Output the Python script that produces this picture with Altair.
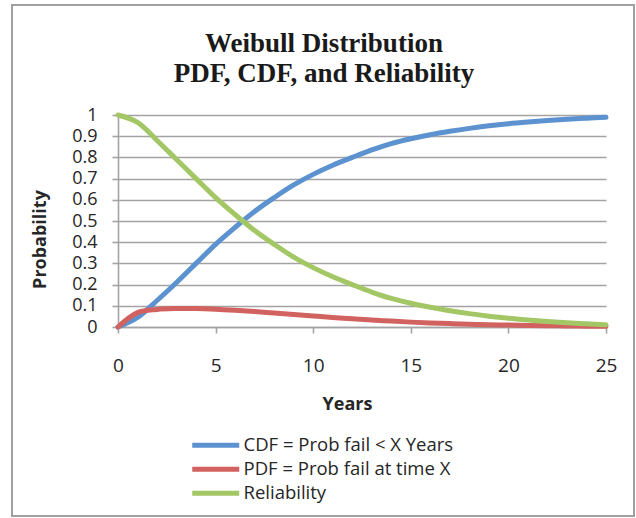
import altair as alt
import pandas as pd

# Weibull failure model read year by year
years = list(range(26))
cdf = [0.0, 0.045, 0.125, 0.21, 0.30, 0.39, 0.47, 0.545, 0.61, 0.67, 0.72, 0.763,
       0.80, 0.835, 0.865, 0.888, 0.907, 0.923, 0.937, 0.949, 0.959, 0.967,
       0.974, 0.98, 0.985, 0.989]
pdf = [0.0, 0.068, 0.083, 0.087, 0.087, 0.084, 0.079, 0.073, 0.066, 0.059, 0.052,
       0.045, 0.039, 0.033, 0.028, 0.023, 0.019, 0.016, 0.013, 0.011, 0.009,
       0.007, 0.006, 0.005, 0.004, 0.003]
reliability = [1.0, 0.965, 0.88, 0.79, 0.70, 0.61, 0.53, 0.455, 0.39, 0.33, 0.28,
               0.237, 0.20, 0.165, 0.135, 0.112, 0.093, 0.077, 0.063, 0.051,
               0.041, 0.033, 0.026, 0.02, 0.015, 0.011]

series_names = ["CDF = Prob fail < X Years", "PDF = Prob fail at time X", "Reliability"]
series_colors = ["#5b92cf", "#d2625f", "#a4c766"]

x_ticks = [0, 5, 10, 15, 20, 25]
y_ticks = [0, 0.1, 0.2, 0.3, 0.4, 0.5, 0.6, 0.7, 0.8, 0.9, 1]

rows = []
for name, values in zip(series_names, [cdf, pdf, reliability]):
    for yr, v in zip(years, values):
        rows.append({"Years": yr, "Probability": v, "Series": name})
df = pd.DataFrame(rows)

GRID = "#a3a3a3"
FONT = "Open Sans"
INK = "#262626"

lines = alt.Chart(df).mark_line(
    strokeWidth=5, interpolate="catmull-rom", strokeCap="round", strokeJoin="round"
).encode(
    x=alt.X(
        "Years:Q",
        scale=alt.Scale(domain=[0, 25], nice=False, zero=False),
        axis=alt.Axis(
            values=x_ticks, format="d", grid=False, domain=True,
            domainColor=GRID, domainWidth=1.6,
            ticks=True, tickSize=6, tickColor=GRID, tickWidth=1.6,
            labelFont=FONT, labelFontSize=19, labelColor=INK,
            labelBaseline="middle", labelPadding=32, labelFlush=False,
            labelOverlap=False,
            title="Years", titleFont=FONT, titleFontSize=18, titleFontWeight="bold",
            titleColor=INK, titleX=229, titleY=77, titleAlign="center",
            titleBaseline="middle",
        ),
    ),
    y=alt.Y(
        "Probability:Q",
        scale=alt.Scale(domain=[0, 1], nice=False),
        axis=alt.Axis(
            values=y_ticks, format="~g", grid=True, gridColor=GRID, gridWidth=1.6,
            domain=True, domainColor=GRID, domainWidth=1.6,
            ticks=True, tickSize=6, tickColor=GRID, tickWidth=1.6,
            labelFont=FONT, labelFontSize=18, labelColor=INK, labelPadding=15,
            labelFlush=False, labelOverlap=False,
            title="Probability", titleFont=FONT, titleFontSize=18,
            titleFontWeight="bold", titleColor=INK, titleX=-78, titleY=124,
            titleAngle=270, titleAlign="center", titleBaseline="middle",
        ),
    ),
    color=alt.Color(
        "Series:N",
        sort=series_names,
        scale=alt.Scale(domain=series_names, range=series_colors),
        legend=alt.Legend(
            title=None, orient="none", legendX=65, legendY=321,
            direction="vertical", padding=0,
            symbolType="M0,0H8", symbolSize=138, symbolStrokeWidth=5,
            labelFont=FONT, labelFontSize=18.5, labelColor=INK,
            labelOffset=42, labelLimit=400, rowPadding=3,
        ),
    ),
)

# outer border around the whole chart area
frame = alt.Chart(pd.DataFrame({"f": [0]})).mark_rect(
    filled=False, stroke="#a0a0a0", strokeWidth=2
).encode(
    x=alt.value(-106), x2=alt.value(516), y=alt.value(-110), y2=alt.value(401)
)

chart = alt.layer(frame, lines).properties(
    width=488,
    height=212,
    padding={"left": 118, "top": 115, "right": 30, "bottom": 191},
    autosize=alt.AutoSizeParams(type="none"),
    background="white",
    title=alt.TitleParams(
        ["Weibull Distribution", "PDF, CDF, and Reliability"],
        font="Liberation Serif", fontSize=27, fontWeight="bold", color="#1a1a1a",
        anchor="middle", frame="group", dx=-38, dy=84, lineHeight=30, offset=0,
        baseline="top",
    ),
).configure_view(stroke=None)

chart.save("out.html", embed_options={"renderer": "svg", "actions": False})
